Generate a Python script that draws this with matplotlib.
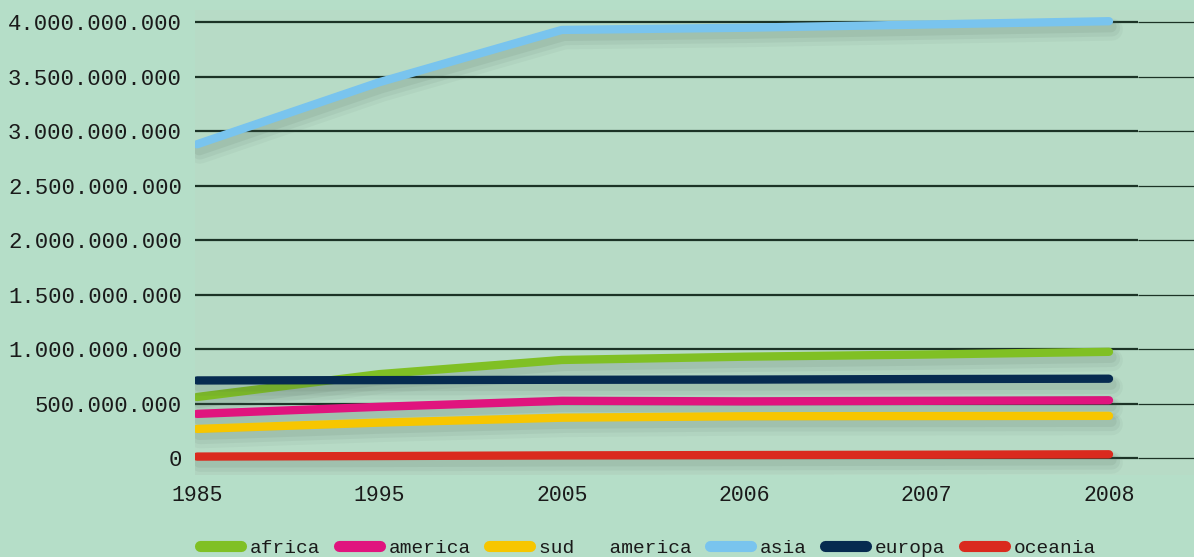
import matplotlib
matplotlib.use("Agg")
import matplotlib.pyplot as plt
import matplotlib.patheffects as pe
from matplotlib.ticker import FuncFormatter

# ----------------------------------------------------------------------------------------

years = ["1985", "1995", "2005", "2006", "2007", "2008"]

africa = [0.56e9, 0.77e9, 0.90e9, 0.93e9, 0.95e9, 0.975e9]
america = [0.405e9, 0.47e9, 0.525e9, 0.52e9, 0.525e9, 0.53e9]
sud_america = [0.267e9, 0.325e9, 0.37e9, 0.383e9, 0.385e9, 0.387e9]
asia = [2.88e9, 3.45e9, 3.93e9, 3.95e9, 3.98e9, 4.01e9]
europa = [0.712e9, 0.715e9, 0.718e9, 0.72e9, 0.725e9, 0.728e9]
oceania = [0.013e9, 0.018e9, 0.024e9, 0.027e9, 0.030e9, 0.034e9]

series = [
    ("africa", africa, "#80c024"),
    ("america", america, "#e0147e"),
    ("sud   america", sud_america, "#f7c600"),
    ("asia", asia, "#79c4ee"),
    ("europa", europa, "#062b50"),
    ("oceania", oceania, "#da2a1e"),
]

yticks = [0, 0.5e9, 1e9, 1.5e9, 2e9, 2.5e9, 3e9, 3.5e9, 4e9]

# ----------------------------------------------------------------------------------------

W, H = 1194, 557
font = "Liberation Mono"
bg = "#b5dec8"

fig = plt.figure(figsize=(W / 100, H / 100), dpi=100, facecolor=bg)
ax = fig.add_axes([195 / W, 1 - 475 / H, 1 - 195 / W, 465 / H])
ax.set_facecolor("#b7dbc6")

x = list(range(len(years)))
y0, y4 = 458, 22.3
ppu = (y0 - y4) / 4e9
ax.set_ylim(-(475 - y0) / ppu, (y0 - 10) / ppu)
xs = (1109 - 197) / 5
ax.set_xlim(-2 / xs, 5 + 85 / xs)

# gridlines: thick within the plot, thin beyond
ax.hlines(yticks, -2 / xs, 5 + 29 / xs, color="#1c3326", lw=1.6, zorder=1)
ax.hlines(yticks, 5 + 29 / xs, 5 + 85 / xs, color="#1c3326", lw=0.9, zorder=1)

# soft drop shadow under each line
sc = "#4a5e52"
shadow = [pe.SimpleLineShadow(offset=(2, -6), shadow_color=sc, alpha=0.05, linewidth=16),
          pe.SimpleLineShadow(offset=(2, -5), shadow_color=sc, alpha=0.07, linewidth=12),
          pe.SimpleLineShadow(offset=(1.5, -4), shadow_color=sc, alpha=0.09, linewidth=8),
          pe.Normal()]

for name, vals, col in series:
    ax.plot(x, vals, color=col, lw=6, solid_capstyle="round", label=name,
            path_effects=shadow, zorder=3)

ax.set_yticks(yticks)
ax.yaxis.set_major_formatter(FuncFormatter(lambda v, p: f"{int(round(v)):,}".replace(",", ".")))
ax.set_xticks(x)
ax.set_xticklabels(years)
ax.tick_params(axis="y", length=0, pad=9.5, labelsize=16, labelcolor="#1a1a1a")
ax.tick_params(axis="x", length=0, pad=7, labelsize=15.5, labelcolor="#1a1a1a")
for lab in ax.get_xticklabels() + ax.get_yticklabels():
    lab.set_fontfamily(font)
for s in ax.spines.values():
    s.set_visible(False)

handles, labels = ax.get_legend_handles_labels()
leg = fig.legend(handles, labels, loc="center", bbox_to_anchor=(648 / W, 1 - 548 / H),
                 ncol=6, frameon=False, handlelength=2.1, handletextpad=0.45,
                 columnspacing=0.95, prop={"family": font, "size": 14})
for h in leg.legend_handles:
    h.set_linewidth(8)
    h.set_path_effects([])
    h.set_solid_capstyle("round")
for t in leg.get_texts():
    t.set_color("#1a1a1a")

plt.savefig("out.png", dpi=100, facecolor=bg)
